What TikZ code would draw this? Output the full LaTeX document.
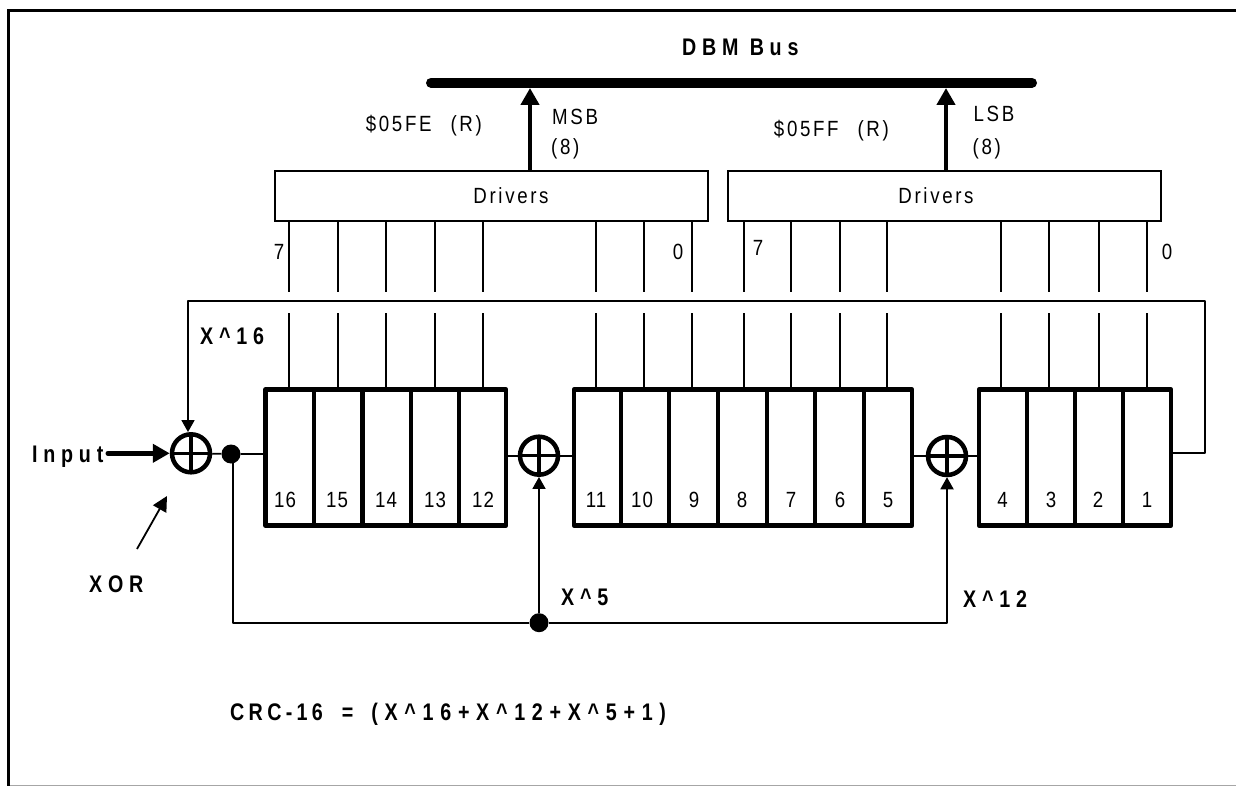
\documentclass[tikz,border=0pt]{standalone}
\usepackage{fontspec}
\setmainfont{Liberation Sans}
\newfontfamily\spc[LetterSpace=12,FakeStretch=.85]{Liberation Sans}
\newfontfamily\spn[LetterSpace=5,FakeStretch=.85]{Liberation Sans}
\newfontfamily\spb[LetterSpace=24,FakeStretch=.82]{Liberation Sans}
\newfontfamily\spbx[LetterSpace=18,FakeStretch=.82]{Liberation Sans}
\newfontfamily\spby[LetterSpace=28,FakeStretch=.82]{Liberation Sans}
\usetikzlibrary{arrows.meta}
\tikzset{
  thinl/.style={line width=1.8pt,draw=black},
  reg/.style={draw=black,line width=4.5pt,fill=none,inner sep=0pt,line join=round},
  cellsep/.style={line width=4.2pt,draw=black},
  xorc/.style={circle,draw=black,line width=4.5pt,minimum size=38pt,inner sep=0pt,
    path picture={\draw[line width=3.2pt] (path picture bounding box.north) -- (path picture bounding box.south)
       (path picture bounding box.west) -- (path picture bounding box.east);}},
  dot/.style={circle,fill=black,inner sep=0pt},
  lab/.style={font=\fontsize{22}{24}\selectfont\spc,inner sep=0pt,anchor=base},
  num/.style={font=\fontsize{22}{24}\selectfont\spn,inner sep=0pt,anchor=base},
  blab/.style={font=\fontsize{24}{26}\selectfont\spb\bfseries,inner sep=0pt,anchor=base west},
  drv/.style={draw=black,line width=2pt,inner sep=0pt},
  tiph/.style={-{Triangle[length=12pt,width=13pt]}},
  bigh/.style={-{Triangle[length=17pt,width=18pt]}},
}
\begin{document}
\begin{tikzpicture}[x=1pt,y=-1pt]
\useasboundingbox (0,0) rectangle (1236,786);
% frame
\coordinate (fbl) at (8.5,785.3);
\coordinate (ftl) at (8.5,10.5);
\coordinate (ftr) at (1236,10.5);
\coordinate (fbr) at (1236,785.3);
\draw[line width=1.2pt,draw=black!35] (fbl) -- (fbr);
\draw[line width=3pt] (8.5,786) -- (ftl) -- (ftr);
% bus
\coordinate (busl) at (431,82.7);
\coordinate (busr) at (1032,82.7);
\draw[line width=10pt,line cap=round] (busl) -- (busr);
\node[blab] (busname) at (682,56) {DBM Bus};
% drivers
\node[drv,minimum width=433pt,minimum height=50pt] (d1) at (491.5,196) {};
\node[drv,minimum width=433pt,minimum height=50pt] (d2) at (944.5,196) {};
\node[lab] (d1t) at (511,204) {Drivers};
\node[lab] (d2t) at (936,204) {Drivers};
\coordinate (b1) at (530,88); \coordinate (b2) at (946,88);
\draw[line width=4.5pt,bigh] (d1.north -| b1) -- (b1);
\draw[line width=4.5pt,bigh] (d2.north -| b2) -- (b2);
\node[lab,anchor=base east] (a1) at (482,131.7) {\$05FE\hspace{19pt}(R)};
\node[lab,anchor=base east] (a2) at (889,136.7) {\$05FF\hspace{19pt}(R)};
\node[lab,anchor=base west] (m1) at (552,125) {MSB};
\node[lab,anchor=base west] (m2) at (551,155) {(8)};
\node[lab,anchor=base west] (l1) at (973.5,122) {LSB};
\node[lab,anchor=base west] (l2) at (972.5,155) {(8)};
\node[num] (n7a) at (279,259) {7};
\node[num] (n0a) at (678,259) {0};
\node[num] (n7b) at (758,256) {7};
\node[num] (n0b) at (1167,259) {0};
% driver stubs
\foreach \x in {289,338,386,435,483,596,644,692,744,791,840,887,1001,1049,1099,1147}{
  \draw[thinl] (\x,221) -- (\x,292);
  \draw[thinl] (\x,313) -- (\x,389);}
% registers
\node[reg,minimum width=240.5pt,minimum height=136pt] (r1) at (385.75,457.5) {};
\node[reg,minimum width=338pt,minimum height=136pt] (r2) at (743,457.5) {};
\node[reg,minimum width=192pt,minimum height=136pt] (r3) at (1075,457.5) {};
\foreach \x in {314,362.5,411,459,621,669,718,767,815,864,1027,1075,1123}
  \draw[cellsep] (\x,389.5) -- (\x,525.5);
\foreach \x/\t in {285/16,337/15,386/14,435/13,483/12,596/11,642/10,694/9,742/8,791/7,840/6,888/5,1002.5/4,1051/3,1098/2,1147/1}
  \node[num] at (\x,507) {\t};
% xors
\node[xorc] (x1) at (191,453.3) {};
\node[xorc] (x2) at (539,455.7) {};
\node[xorc] (x3) at (947,456) {};
\node[dot,minimum size=19pt] (dt1) at (231,454) {};
\node[dot,minimum size=19pt] (dt2) at (539,622.7) {};
% wires
\draw[thinl] (x1) -- (dt1) -- (r1.west |- dt1);
\draw[thinl] (r1.east |- x2) -- (x2) -- (r2.west |- x2);
\draw[thinl] (r2.east |- x3) -- (x3) -- (r3.west |- x3);
\coordinate (loopr) at (1205,453);
\coordinate (loopt) at (1205,301);
\coordinate (loopl) at (188,301);
\draw[thinl,line join=round,tiph] ([xshift=-3pt]r3.east |- loopr) -- (loopr) -- (loopt) -- (loopl) -- (loopl |- x1.north);
\coordinate (fbk) at (233,622.7);
\draw[thinl,line join=round] (fbk |- dt1) -- (fbk) -- (dt2);
\coordinate (fbr2) at (947,622.7);
\draw[thinl,line join=round,tiph] (dt2) -- (fbr2) -- (x3.south);
\draw[thinl,tiph] (dt2) -- (x2.south);
% input
\node[blab] (inp) at (32,462.7) {Input};
\coordinate (ins) at (108,453.3);
\draw[line width=5pt,line cap=round,bigh] (ins) -- (x1.west |- ins);
\node[blab] (xorl) at (89,592) {XOR};
\coordinate (xa) at (137,549);
\coordinate (xb) at (167,496);
\draw[line width=1.8pt,-{Triangle[length=15pt,width=15pt]}] (xa) -- (xb);
\node[blab] (p16) at (200,344) {X\^{}16};
\node[blab] (p5) at (561,605) {X\^{}5};
\node[blab] (p12) at (963,607.7) {X\^{}12};
\node[blab] (crc) at (230,720) {{\spbx CRC-16}\hspace{19pt}=\hspace{18pt}{\spby (X\^{}16+X\^{}12+X\^{}5+1)}};
\end{tikzpicture}
\end{document}
